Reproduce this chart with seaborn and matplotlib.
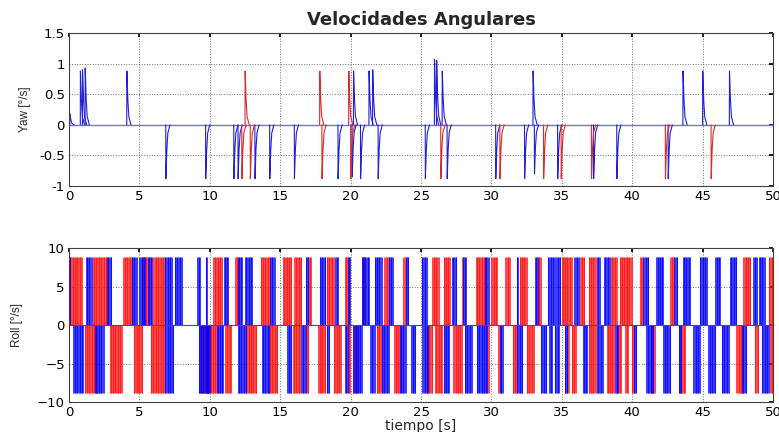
import numpy as np
import pandas as pd
import matplotlib
matplotlib.use("Agg")
import matplotlib.pyplot as plt
import seaborn as sns

# Yaw: spike events (time [s], peak [deg/s])
yaw_blue_t = [0.05, 0.8, 0.95, 1.14, 4.1, 6.87, 9.7, 11.7, 12.0, 13.2, 14.25, 16.0,
              19.1, 20.1, 20.2, 20.7, 21.3, 21.56, 21.95, 25.3, 25.95, 26.1, 26.5,
              26.85, 30.3, 32.35, 32.95, 33.05, 34.7, 37.25, 38.9, 42.55, 43.6,
              45.0, 46.9]
yaw_blue_peak = [0.18, 0.88, 0.9, 0.93, 0.88, -0.88, -0.88, -0.88, -0.88, -0.88,
                 -0.88, -0.88, -0.88, -0.85, 0.88, -0.88, 0.88, 0.9, -0.88, -0.88,
                 1.07, 1.05, 0.88, -0.88, -0.88, -0.88, 0.88, -0.8, -0.88, -0.88,
                 -0.88, -0.88, 0.88, 0.88, 0.88]
yaw_red_t = [12.27, 12.5, 12.87, 17.8, 17.96, 19.86, 20.0, 26.4, 30.6, 33.7,
             34.95, 37.1, 42.35, 45.6]
yaw_red_peak = [-0.88, 0.88, -0.88, 0.88, -0.88, 0.88, -0.88, -0.88, -0.88,
                -0.88, -0.88, -0.88, -0.88, -0.88]

# Roll: bursts of oscillation (start, end) per colour and sign
roll_amp = 8.8
blue_pos = [(0.05, 0.12), (1.2, 1.6), (2.7, 3.0), (4.45, 4.8), (5.0, 5.4), (5.6, 5.9),
            (6.8, 7.3), (7.5, 8.0), (9.1, 9.3), (9.7, 9.8), (11.0, 11.3), (12.0, 12.3),
            (12.5, 13.0), (14.3, 14.6), (16.8, 17.0), (17.8, 18.2), (18.9, 19.1),
            (19.8, 19.95), (20.8, 21.3), (21.7, 22.2), (22.7, 23.0), (23.9, 24.1),
            (25.05, 25.4), (27.2, 27.5), (28.0, 28.2), (29.55, 29.8), (31.8, 31.9),
            (33.1, 33.3), (34.0, 34.5), (34.6, 34.9), (35.9, 36.2), (37.5, 37.7),
            (38.0, 38.4), (40.8, 41.15), (41.7, 42.2), (43.0, 43.2), (43.6, 44.1),
            (44.8, 45.3), (45.9, 46.25), (46.95, 47.4), (48.6, 48.85), (49.0, 49.4)]
red_pos = [(0.0, 0.9), (1.7, 2.7), (3.85, 4.5), (5.2, 5.6), (6.0, 6.8), (10.25, 10.85),
           (11.8, 12.0), (13.6, 14.3), (15.2, 15.8), (16.0, 16.5), (17.0, 17.2),
           (18.3, 18.8), (19.6, 19.8), (20.8, 21.0), (22.4, 22.7), (23.75, 23.9),
           (25.8, 26.25), (26.6, 27.05), (27.9, 28.0), (28.9, 29.55), (30.0, 30.4),
           (31.0, 31.3), (32.0, 32.5), (33.3, 33.5), (35.0, 35.7), (36.3, 36.6),
           (36.9, 37.4), (38.5, 38.9), (39.1, 39.6), (39.6, 39.95), (40.56, 40.8),
           (42.7, 43.0), (47.9, 48.4), (49.7, 50.0)]
blue_neg = [(0.3, 1.0), (1.85, 2.45), (6.8, 7.4), (9.2, 9.9), (9.7, 10.0), (10.5, 10.95),
            (12.0, 12.6), (13.7, 14.2), (15.5, 15.8), (16.5, 16.8), (18.3, 18.5),
            (19.6, 19.8), (20.2, 20.8), (21.4, 21.7), (22.2, 22.7), (23.5, 23.9),
            (24.3, 24.6), (25.1, 25.5), (26.6, 27.0), (28.1, 28.6), (28.95, 29.55),
            (29.6, 29.7), (30.6, 30.8), (31.8, 32.2), (33.5, 33.9), (34.1, 34.3),
            (34.5, 34.8), (35.2, 35.4), (36.5, 36.8), (37.5, 37.9), (38.8, 39.0),
            (40.1, 40.3), (41.0, 41.5), (42.2, 42.7), (43.3, 43.5), (44.35, 44.8),
            (45.4, 45.9), (46.35, 46.85), (47.8, 48.1), (49.2, 49.7)]
red_neg = [(1.1, 2.0), (2.9, 3.75), (4.6, 5.2), (5.8, 6.8), (9.3, 10.5), (11.1, 11.5),
           (12.6, 13.3), (14.2, 14.8), (15.9, 16.4), (16.8, 17.0), (17.7, 18.2),
           (18.8, 19.3), (19.8, 19.95), (20.2, 20.5), (21.85, 22.2), (23.1, 23.5),
           (25.4, 25.8), (26.0, 26.5), (27.3, 27.9), (29.7, 29.8), (30.5, 30.7),
           (31.5, 31.8), (32.5, 33.0), (35.4, 35.5), (35.7, 36.0), (36.9, 37.4),
           (38.2, 38.7), (38.9, 39.2), (39.5, 39.7), (39.95, 40.15), (41.3, 41.6),
           (43.4, 43.75), (47.4, 47.9), (48.7, 48.95), (49.8, 50.0)]

# spike shape template (offset in s, fraction of peak)
shape_dt = [0.0, 0.01, 0.08, 0.15, 0.3]
shape_frac = [0.0, 1.0, 0.45, 0.15, 0.0]

rows = []
for col, ts, ps in (("b", yaw_blue_t, yaw_blue_peak), ("r", yaw_red_t, yaw_red_peak)):
    for k, (t0, p) in enumerate(zip(ts, ps)):
        for dt, f in zip(shape_dt, shape_frac):
            rows.append({"t": t0 + dt, "yaw": p * f, "spike": f"{col}{k}", "color": col})
df_yaw = pd.DataFrame(rows)

sns.set_theme(style="white")
plt.rcParams["font.family"] = ["DejaVu Sans"]

fig = plt.figure(figsize=(7.79, 4.32), dpi=100)
ax1 = fig.add_axes([0.0886, 0.5694, 0.9037, 0.354])
ax2 = fig.add_axes([0.0886, 0.0694, 0.9037, 0.3565])

ax1.axhline(0, color="#7272d8", lw=1.0, zorder=1)
sns.lineplot(data=df_yaw, x="t", y="yaw", hue="color", units="spike", estimator=None,
             palette={"b": "#2020d8", "r": "#dd2a2a"}, legend=False, lw=0.8, ax=ax1)

for bursts, sign, colr in ((red_pos, 1, "#ff1010"), (red_neg, -1, "#ff1010"),
                           (blue_pos, 1, "#0000ff"), (blue_neg, -1, "#0000ff")):
    for a, b in bursts:
        xs = np.arange(a, b + 1e-9, 0.05)
        ax2.vlines(xs, 0, sign * roll_amp, color=colr, lw=0.75, alpha=0.75)
ax2.axhline(0, color="#4040e0", lw=0.8)

for ax in (ax1, ax2):
    ax.set_xlim(0, 50)
    ax.set_xticks(range(0, 51, 5))
    ax.grid(True, linestyle=":", color="#707070", lw=0.7)
    ax.tick_params(direction="in", top=True, right=True, length=3, labelsize=9.5,
                   pad=3, colors="black")
    for s in ax.spines.values():
        s.set_color("#404040")
        s.set_linewidth(0.8)
    ax.set_axisbelow(True)

ax1.set_ylim(-1, 1.5)
ax1.set_yticks([-1, -0.5, 0, 0.5, 1, 1.5])
ax1.set_yticklabels(["-1", "-0.5", "0", "0.5", "1", "1.5"])
ax1.set_xlabel("")
ax1.set_ylabel("Yaw [°/s]", fontsize=8.5, family="Liberation Sans", labelpad=6)
ax1.set_title("Velocidades Angulares", fontsize=13, fontweight="bold", pad=6)

ax2.set_ylim(-10, 10)
ax2.set_yticks([-10, -5, 0, 5, 10])
ax2.set_ylabel("Roll [°/s]", fontsize=8.5, family="Liberation Sans", labelpad=10)
ax2.set_xlabel("tiempo [s]", fontsize=10, labelpad=0)

fig.savefig("out.png", dpi=100)
